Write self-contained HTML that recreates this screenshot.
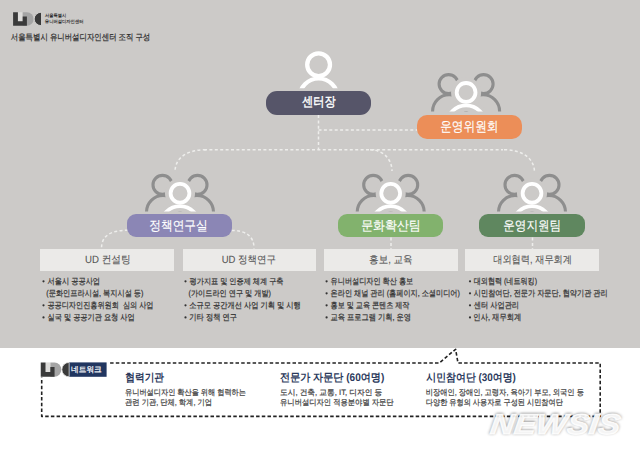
<!DOCTYPE html>
<html><head><meta charset="utf-8">
<style>
html,body{margin:0;padding:0;}
body{width:640px;height:452px;overflow:hidden;background:#fff;font-family:"Liberation Sans",sans-serif;position:relative;}
.abs{position:absolute;}
#gray{left:0;top:0;width:640px;height:347.5px;background:#cccac8;}
.pill{position:absolute;}
.box{position:absolute;top:248.5px;height:22.4px;background:#ebeae8;}
</style></head>
<body>
<div id="gray" class="abs"></div>

<!-- header logo -->
<svg class="abs" style="left:0;top:0" width="640" height="452" viewBox="0 0 640 452">
  <defs>
    <g id="logo">
      <rect x="4.8" y="0" width="4.8" height="9" fill="#dedddb"/>
      <path d="M9.6 0 H13.8 A6.75 6.75 0 0 1 13.8 13.5 H9.6 Z" fill="#a5a5a5"/>
      <path d="M0 0 H4.8 V9 H9.6 V4.2 H13.8 V13.5 H0 Z" fill="#3a3a3a"/>
      <path d="M28.4 0 A7.3 6.75 0 0 0 28.4 13.5 Z" fill="#3a3a3a" stroke="#dedddb" stroke-width="0.8"/>
    </g>
  </defs>
  <use href="#logo" transform="translate(13.1 12.2)"/>
</svg>
<!-- connectors & icons -->
<svg class="abs" style="left:0;top:0" width="640" height="452" viewBox="0 0 640 452">
  <defs>
    <clipPath id="c1"><rect x="0" y="0" width="640" height="88.3"/></clipPath>
    <clipPath id="c2"><rect x="0" y="0" width="640" height="111.4"/></clipPath>
    <clipPath id="c3"><rect x="0" y="0" width="640" height="211.6"/></clipPath>
    <g id="grp">
      <circle cx="-17.5" cy="-28.1" r="9.5" fill="none" stroke="#8e8e8e" stroke-width="3.1"/>
      <circle cx="17.5" cy="-28.1" r="9.5" fill="none" stroke="#8e8e8e" stroke-width="3.1"/>
      <circle cx="-17" cy="-1" r="16.5" fill="none" stroke="#8e8e8e" stroke-width="3.1"/>
      <circle cx="17" cy="-1" r="16.5" fill="none" stroke="#8e8e8e" stroke-width="3.1"/>
      <circle cx="0" cy="-19.8" r="9.4" fill="#cccac8" stroke="#cccac8" stroke-width="11.3"/>
      <circle cx="0" cy="12.45" r="19.3" fill="#cccac8" stroke="#cccac8" stroke-width="11.3"/>
      <circle cx="0" cy="-19.8" r="9.4" fill="#cccac8" stroke="#fff" stroke-width="3.8"/>
      <circle cx="0" cy="12.45" r="19.3" fill="none" stroke="#fff" stroke-width="3.8"/>
    </g>
  </defs>
  <g fill="none" stroke="#eeeeec" stroke-width="1.5" stroke-dasharray="3 2.4">
    <path d="M318.5 115 V150"/>
    <path d="M318.5 130 H417"/>
    <path d="M204 149.7 H503"/>
    <path d="M206 149.7 C188 149.7 175 157 175 172"/>
    <path d="M370 149.7 C384 150 392 160 392 171"/>
    <path d="M504 149.7 C522 150 534.5 158 534.5 172.5"/>
    <path d="M128 230.3 C110 230.3 101.5 236 101.5 248.5"/>
    <path d="M231.5 230.5 C246 230.5 254 236 254 248.5"/>
    <path d="M391 237.5 V249"/>
    <path d="M532.5 237.5 V249"/>
  </g>
  <!-- center single person -->
  <g clip-path="url(#c1)">
    <circle cx="318.6" cy="64.7" r="11.4" fill="none" stroke="#fff" stroke-width="4.3"/>
    <circle cx="318.6" cy="97.5" r="19" fill="none" stroke="#fff" stroke-width="4.2"/>
  </g>
  <g clip-path="url(#c2)"><use href="#grp" transform="translate(466.1 112.2)"/></g>
  <g clip-path="url(#c3)">
    <use href="#grp" transform="translate(180 213)"/>
    <use href="#grp" transform="translate(390.7 213)"/>
    <use href="#grp" transform="translate(532 213)"/>
  </g>
</svg>

<div class="pill" style="left:265.9px;top:90.8px;width:105px;height:24.4px;border-radius:11px;background:#565569;"></div>
<div class="pill" style="left:417px;top:115px;width:104.7px;height:23.7px;border-radius:10px;background:#ec8e58;"></div>
<div class="pill" style="left:127.3px;top:213.9px;width:104.6px;height:23.4px;border-radius:9px;background:#8b86b5;"></div>
<div class="pill" style="left:337.8px;top:213.9px;width:105.6px;height:23.4px;border-radius:9px;background:#82b26d;"></div>
<div class="pill" style="left:478.9px;top:213.9px;width:106.1px;height:23.4px;border-radius:9px;background:#5f875f;"></div>

<div class="box" style="left:40.3px;width:133.7px;"></div>
<div class="box" style="left:182.5px;width:133.7px;"></div>
<div class="box" style="left:324px;width:133.5px;"></div>
<div class="box" style="left:465.4px;width:133.9px;"></div>

<svg class="abs" style="left:0;top:0" width="640" height="452" viewBox="0 0 640 452">
<g fill="#333">
<circle cx="43.5" cy="281.3" r="1.1"/>
<circle cx="43.5" cy="305.3" r="1.1"/>
<circle cx="43.5" cy="317.4" r="1.1"/>
<circle cx="185.5" cy="281.3" r="1.1"/>
<circle cx="185.5" cy="305.3" r="1.1"/>
<circle cx="185.5" cy="317.4" r="1.1"/>
<circle cx="326.6" cy="281.3" r="1.1"/>
<circle cx="326.6" cy="293.3" r="1.1"/>
<circle cx="326.6" cy="305.3" r="1.1"/>
<circle cx="326.6" cy="317.4" r="1.1"/>
<circle cx="470.0" cy="281.3" r="1.1"/>
<circle cx="470.0" cy="293.3" r="1.1"/>
<circle cx="470.0" cy="305.3" r="1.1"/>
<circle cx="470.0" cy="317.4" r="1.1"/>
</g>
</svg>
<!-- bottom network -->
<svg class="abs" style="left:0;top:0" width="640" height="452" viewBox="0 0 640 452">
  <path d="M41.7 363 H439.2 L455.6 349.3 L458 363 H600.2 V416.4 H41.7 Z" fill="none" stroke="#222" stroke-width="1.6" stroke-dasharray="3.5 2.2" stroke-linejoin="round"/>
  <rect x="40" y="361" width="68" height="16.5" fill="#fff"/>
  <rect x="69" y="362.4" width="37.6" height="14.4" fill="#213660"/>
  <use href="#logo" transform="translate(40.75 362.4) scale(1 1.067)"/>
</svg>

<svg class="abs" style="left:0;top:0" width="640" height="452" font-family="Liberation Sans, sans-serif" text-rendering="geometricPrecision">
<text transform="translate(45.10 17.00) scale(0.9303 1)" font-size="4.574" fill="#2e2e2e" font-weight="bold">서울특별시</text>
<text transform="translate(44.87 23.20) scale(0.9301 1)" font-size="4.624" fill="#2e2e2e" font-weight="bold">유니버설디자인센터</text>
<text transform="translate(10.79 39.55) scale(0.8556 1)" font-size="8.667" fill="#2e2e2e" font-weight="normal" stroke="#2e2e2e" stroke-width="0.22">서울특별시 유니버설디자인센터 조직 구성</text>
<text transform="translate(301.99 106.45) scale(0.8456 1)" font-size="13.258" fill="#ffffff" font-weight="normal" stroke="#ffffff" stroke-width="0.4">센터장</text>
<text transform="translate(440.15 130.65) scale(0.8519 1)" font-size="13.708" fill="#ffffff" font-weight="normal" stroke="#ffffff" stroke-width="0.15">운영위원회</text>
<text transform="translate(149.24 229.50) scale(0.8778 1)" font-size="13.333" fill="#ffffff" font-weight="normal" stroke="#ffffff" stroke-width="0.15">정책연구실</text>
<text transform="translate(361.23 229.50) scale(0.8922 1)" font-size="13.333" fill="#ffffff" font-weight="normal" stroke="#ffffff" stroke-width="0.15">문화확산팀</text>
<text transform="translate(503.25 229.60) scale(0.8688 1)" font-size="13.333" fill="#ffffff" font-weight="normal" stroke="#ffffff" stroke-width="0.15">운영지원팀</text>
<text transform="translate(85.11 262.70) scale(0.9137 1)" font-size="10.562" fill="#555555" font-weight="normal" stroke="#555555" stroke-width="0.1">UD 컨설팅</text>
<text transform="translate(221.72 262.70) scale(0.9082 1)" font-size="10.444" fill="#555555" font-weight="normal" stroke="#555555" stroke-width="0.1">UD 정책연구</text>
<text transform="translate(369.12 262.50) scale(0.9124 1)" font-size="10.444" fill="#555555" font-weight="normal" stroke="#555555" stroke-width="0.1">홍보, 교육</text>
<text transform="translate(493.16 262.70) scale(0.8834 1)" font-size="10.444" fill="#555555" font-weight="normal" stroke="#555555" stroke-width="0.1">대외협력, 재무회계</text>
<text transform="translate(47.59 284.00) scale(0.8543 1)" font-size="8.444" fill="#333333" font-weight="normal" stroke="#333333" stroke-width="0.22">서울시 공공사업</text>
<text transform="translate(46.32 296.00) scale(0.8527 1)" font-size="8.444" fill="#333333" font-weight="normal" stroke="#333333" stroke-width="0.22">(문화인프라시설, 복지시설 등)</text>
<text transform="translate(47.38 308.00) scale(0.8478 1)" font-size="8.444" fill="#333333" font-weight="normal" stroke="#333333" stroke-width="0.22">공공디자인진흥위원회&nbsp; 심의 사업</text>
<text transform="translate(47.58 320.10) scale(0.8617 1)" font-size="8.352" fill="#333333" font-weight="normal" stroke="#333333" stroke-width="0.22">실국 및 공공기관 요청 사업</text>
<text transform="translate(189.58 284.00) scale(0.8781 1)" font-size="8.172" fill="#333333" font-weight="normal" stroke="#333333" stroke-width="0.22">평가지표 및 인증제 체계 구축</text>
<text transform="translate(188.54 296.00) scale(0.8593 1)" font-size="8.352" fill="#333333" font-weight="normal" stroke="#333333" stroke-width="0.22">(가이드라인 연구 및 개발)</text>
<text transform="translate(189.37 308.00) scale(0.8677 1)" font-size="8.352" fill="#333333" font-weight="normal" stroke="#333333" stroke-width="0.22">소규모 공간개선 사업 기획 및 시행</text>
<text transform="translate(189.37 320.10) scale(0.8590 1)" font-size="8.444" fill="#333333" font-weight="normal" stroke="#333333" stroke-width="0.22">기타 정책 연구</text>
<text transform="translate(330.58 284.00) scale(0.8472 1)" font-size="8.444" fill="#333333" font-weight="normal" stroke="#333333" stroke-width="0.22">유니버설디자인 확산 홍보</text>
<text transform="translate(330.58 296.00) scale(0.8488 1)" font-size="8.444" fill="#333333" font-weight="normal" stroke="#333333" stroke-width="0.22">온라인 채널 관리 (홈페이지, 소셜미디어)</text>
<text transform="translate(330.58 308.00) scale(0.8499 1)" font-size="8.352" fill="#333333" font-weight="normal" stroke="#333333" stroke-width="0.22">홍보 및 교육 콘텐츠 제작</text>
<text transform="translate(330.57 320.10) scale(0.8564 1)" font-size="8.444" fill="#333333" font-weight="normal" stroke="#333333" stroke-width="0.22">교육 프로그램 기획, 운영</text>
<text transform="translate(473.79 284.00) scale(0.8375 1)" font-size="8.444" fill="#333333" font-weight="normal" stroke="#333333" stroke-width="0.22">대외협력 (네트워킹)</text>
<text transform="translate(473.79 296.00) scale(0.8500 1)" font-size="8.444" fill="#333333" font-weight="normal" stroke="#333333" stroke-width="0.22">시민참여단, 전문가 자문단, 협약기관 관리</text>
<text transform="translate(473.79 308.00) scale(0.8544 1)" font-size="8.444" fill="#333333" font-weight="normal" stroke="#333333" stroke-width="0.22">센터 사업관리</text>
<text transform="translate(473.36 320.10) scale(0.8593 1)" font-size="8.539" fill="#333333" font-weight="normal" stroke="#333333" stroke-width="0.22">인사, 재무회계</text>
<text transform="translate(125.36 381.20) scale(0.8832 1)" font-size="10.957" fill="#2c3a5c" font-weight="bold">협력기관</text>
<text transform="translate(280.04 381.20) scale(0.9117 1)" font-size="11.075" fill="#2c3a5c" font-weight="bold">전문가 자문단 (60여명)</text>
<text transform="translate(426.30 381.20) scale(0.9046 1)" font-size="10.957" fill="#2c3a5c" font-weight="bold">시민참여단 (30여명)</text>
<text transform="translate(125.06 395.15) scale(0.8856 1)" font-size="8.111" fill="#444444" font-weight="normal" stroke="#444444" stroke-width="0.22">유니버설디자인 확산을 위해 협력하는</text>
<text transform="translate(125.05 404.85) scale(0.8976 1)" font-size="8.111" fill="#444444" font-weight="normal" stroke="#444444" stroke-width="0.22">관련 기관, 단체, 학계, 기업</text>
<text transform="translate(280.01 395.15) scale(0.9712 1)" font-size="7.935" fill="#444444" font-weight="normal" stroke="#444444" stroke-width="0.22">도시, 건축, 교통, IT, 디자인 등</text>
<text transform="translate(280.05 404.85) scale(0.9006 1)" font-size="8.111" fill="#444444" font-weight="normal" stroke="#444444" stroke-width="0.22">유니버설디자인 적용분야별 자문단</text>
<text transform="translate(425.63 395.15) scale(0.8963 1)" font-size="8.111" fill="#444444" font-weight="normal" stroke="#444444" stroke-width="0.22">비장애인, 장애인, 고령자, 육아기 부모, 외국인 등</text>
<text transform="translate(425.86 404.85) scale(0.8841 1)" font-size="8.111" fill="#444444" font-weight="normal" stroke="#444444" stroke-width="0.22">다양한 유형의 사용자로 구성된 시민참여단</text>
<text transform="translate(71.12 371.50) scale(0.9581 1)" font-size="7.978" fill="#ffffff" font-weight="normal" stroke="#ffffff" stroke-width="0.22">네트워크</text>
</svg>

<svg class="abs" style="left:0;top:0" width="640" height="452" viewBox="0 0 640 452">
  <defs><filter id="sh" x="-10%" y="-30%" width="120%" height="160%"><feGaussianBlur stdDeviation="1.2"/></filter></defs>
  <g transform="translate(489.4 433.5) scale(1.155 1) skewX(-6)" font-family="Liberation Sans" font-size="28.5" font-weight="bold" font-style="italic">
    <text x="0" y="0" fill="#000" fill-opacity="0.3" stroke="#000" stroke-opacity="0.3" stroke-width="1.4" filter="url(#sh)">NEWSIS</text>
    <text x="0" y="0" fill="#fff" fill-opacity="0.88" stroke="#fff" stroke-opacity="0.88" stroke-width="1.2">NEWSIS</text>
  </g>
</svg>
</body></html>
